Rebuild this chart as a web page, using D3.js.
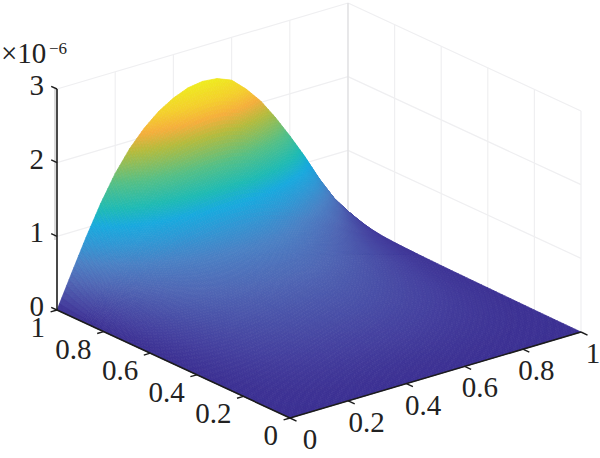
<!DOCTYPE html>
<html>
<head>
  <meta charset="utf-8">
  <title>surface</title>
  <script src="https://d3js.org/d3.v7.min.js"></script>
  <style>
    body { margin: 0; background: #fff; }
    text { font-family: "Liberation Serif", serif; fill: #222; }
  </style>
</head>
<body>
<script>
var w = 600;
var h = 458;

var xTicks = [0, 0.2, 0.4, 0.6, 0.8, 1];
var yTicks = [0, 0.2, 0.4, 0.6, 0.8, 1];
var zTicks = [0, 1, 2, 3];

// grid of the surface (z in units of 1e-6)
var xGrid = [0, .05, .1, .15, .2, .25, .3, .35, .4, .45, .5, .55, .6, .65, .7, .75, .8, .85, .9, .95, 1];
var yGrid = [0, .1, .2, .3, .4, .5, .6, .7, .75, .8, .85, .9, .925, .95, .975, 1];
var zRows = [
  [0,0,0,0,0,0,0,0,0,0,0,0,0,0,0,0,0,0,0,0,0],
  [0,.005,.01,.015,.019,.023,.025,.027,.029,.03,.03,.03,.029,.027,.024,.021,.017,.013,.009,.005,.002],
  [0,.013,.026,.038,.049,.057,.064,.069,.072,.075,.076,.075,.073,.067,.061,.052,.043,.033,.022,.013,.005],
  [0,.022,.044,.064,.081,.095,.106,.115,.121,.125,.126,.125,.121,.112,.101,.087,.072,.055,.037,.021,.009],
  [0,.033,.065,.095,.122,.143,.159,.172,.181,.187,.189,.188,.182,.168,.152,.131,.107,.083,.056,.032,.013],
  [0,.044,.087,.127,.162,.19,.212,.229,.241,.249,.252,.25,.242,.224,.202,.174,.143,.11,.074,.042,.017],
  [0,.057,.113,.165,.211,.247,.276,.298,.313,.324,.328,.325,.315,.291,.263,.226,.186,.143,.096,.055,.022],
  [0,.077,.152,.222,.284,.333,.371,.401,.422,.436,.441,.438,.424,.392,.354,.305,.25,.193,.13,.074,.03],
  [0,.09,.178,.26,.332,.39,.435,.469,.494,.51,.517,.513,.496,.459,.414,.357,.293,.226,.152,.086,.035],
  [0,.108,.213,.311,.397,.466,.519,.561,.59,.61,.617,.613,.593,.549,.495,.426,.35,.27,.181,.103,.042],
  [0,.136,.27,.394,.502,.589,.657,.71,.747,.772,.781,.775,.75,.694,.626,.539,.443,.341,.229,.13,.053],
  [0,.198,.392,.572,.729,.855,.954,1.03,1.085,1.12,1.134,1.125,1.089,1.008,.909,.783,.644,.495,.333,.189,.077],
  [0,.246,.487,.711,.907,1.064,1.187,1.282,1.35,1.394,1.411,1.4,1.355,1.254,1.131,.974,.801,.616,.414,.235,.095],
  [0,.308,.609,.889,1.134,1.33,1.484,1.603,1.687,1.743,1.764,1.75,1.694,1.568,1.414,1.218,1.001,.77,.518,.294,.119],
  [0,.374,.74,1.08,1.377,1.615,1.802,1.947,2.049,2.117,2.142,2.125,2.057,1.904,1.717,1.479,1.216,.935,.629,.357,.145],
  [0,.44,.87,1.27,1.62,1.9,2.12,2.29,2.41,2.49,2.52,2.5,2.42,2.24,2.02,1.74,1.43,1.1,.74,.42,.17]
];

var colorLevels = [0, .1, .36, .58, .8, 1, 1.2, 1.5, 1.85, 2.05, 2.25, 2.52];
var colorStops = ["#3b2f92", "#443f9e", "#4f66b4", "#4a80c4", "#2f97d4", "#18a9de",
                  "#1ebab4", "#55bf85", "#b5bb3c", "#f5ae3c", "#f4cf2c", "#eeed1e"];
var color = d3.scaleLinear().domain(colorLevels).range(colorStops);

// oblique axes: each data axis moves the point along its own screen vector
var origin = [290, 418];
var xToX = d3.scaleLinear().domain([0, 1]).range([0, 291]);
var xToY = d3.scaleLinear().domain([0, 1]).range([0, -86]);
var yToX = d3.scaleLinear().domain([0, 1]).range([0, -233]);
var yToY = d3.scaleLinear().domain([0, 1]).range([0, -108]);
var zToY = d3.scaleLinear().domain([0, 3]).range([0, -221]);

function project(x, y, z) {
  return [origin[0] + xToX(x) + yToX(y), origin[1] + xToY(x) + yToY(y) + zToY(z)];
}

var line = d3.line();
var svg = d3.select("body").append("svg").attr("width", w).attr("height", h);

function seg(g, a, b, col, width) {
  g.append("path").attr("d", line([a, b])).attr("fill", "none")
    .attr("stroke", col).attr("stroke-width", width);
}

// back walls
var grid = svg.append("g");
var gridCol = "#efeff1";
zTicks.slice(1).forEach(function(z) {
  seg(grid, project(0, 1, z), project(1, 1, z), gridCol, 1.2);
  seg(grid, project(1, 1, z), project(1, 0, z), gridCol, 1.2);
});
xTicks.slice(1).forEach(function(x) {
  seg(grid, project(x, 1, 0), project(x, 1, 3), x == 1 ? "#e2e2e4" : gridCol, x == 1 ? 1.6 : 1.2);
});
yTicks.slice(0, -1).forEach(function(y) {
  seg(grid, project(1, y, 0), project(1, y, 3), gridCol, 1.2);
});
seg(grid, [55, 89], [55, 240], "#cfcfcf", 1.5);

// surface, far corner first; each data cell split up so the shading runs smooth
var zAt = function(i, j, u, v) {
  var a = d3.interpolateNumber(zRows[j][i], zRows[j][i + 1])(u);
  var b = d3.interpolateNumber(zRows[j + 1][i], zRows[j + 1][i + 1])(u);
  return a + (b - a) * v;
};
var surface = svg.append("g");
var nx = 6, ny = 8;
for (var j = yGrid.length - 2; j >= 0; j--) {
  for (var sy = ny - 1; sy >= 0; sy--) {
    for (var i = xGrid.length - 2; i >= 0; i--) {
      for (var sx = nx - 1; sx >= 0; sx--) {
        var u0 = sx / nx, u1 = (sx + 1) / nx, v0 = sy / ny, v1 = (sy + 1) / ny;
        var x0 = xGrid[i] + (xGrid[i + 1] - xGrid[i]) * u0, x1 = xGrid[i] + (xGrid[i + 1] - xGrid[i]) * u1;
        var y0 = yGrid[j] + (yGrid[j + 1] - yGrid[j]) * v0, y1 = yGrid[j] + (yGrid[j + 1] - yGrid[j]) * v1;
        var corners = [
          project(x0, y0, zAt(i, j, u0, v0)),
          project(x1, y0, zAt(i, j, u1, v0)),
          project(x1, y1, zAt(i, j, u1, v1)),
          project(x0, y1, zAt(i, j, u0, v1))
        ];
        var c = color(zAt(i, j, (u0 + u1) / 2, (v0 + v1) / 2));
        surface.append("path").attr("d", line(corners) + "Z")
          .attr("fill", c).attr("stroke", c).attr("stroke-width", 0.7);
      }
    }
  }
}

// axes
var axes = svg.append("g");
var axisCol = "#1c1c1c";
seg(axes, project(0, 1, 0), project(0, 1, 3), axisCol, 1.6);
seg(axes, project(0, 0, 0), project(0, 1, 0), axisCol, 1.6);
seg(axes, project(0, 0, 0), project(1, 0, 0), axisCol, 1.6);

zTicks.forEach(function(z) {
  var p = project(0, 1, z);
  seg(axes, p, project(0, 1.025, z), axisCol, 1.4);
  axes.append("text").attr("x", p[0] - 13).attr("y", p[1] + 6).attr("text-anchor", "end")
    .attr("font-size", 29).text(z);
});
xTicks.forEach(function(x) {
  var p = project(x, 0, 0);
  seg(axes, p, project(x, -0.028, 0), axisCol, 1.4);
  axes.append("text").attr("x", p[0] + 20 - 8 * x).attr("y", p[1] + 31).attr("text-anchor", "middle")
    .attr("font-size", 29).text(x);
});
yTicks.forEach(function(y) {
  var p = project(0, y, 0);
  seg(axes, p, project(-0.022, y, 0), axisCol, 1.4);
  axes.append("text").attr("x", p[0] - 12).attr("y", p[1] + 27).attr("text-anchor", "end")
    .attr("font-size", 29).text(y);
});

axes.append("text").attr("x", 1).attr("y", 63).attr("font-size", 29).text("×10");
axes.append("text").attr("x", 49).attr("y", 54).attr("font-size", 17).text("−6");
</script>
</body>
</html>
